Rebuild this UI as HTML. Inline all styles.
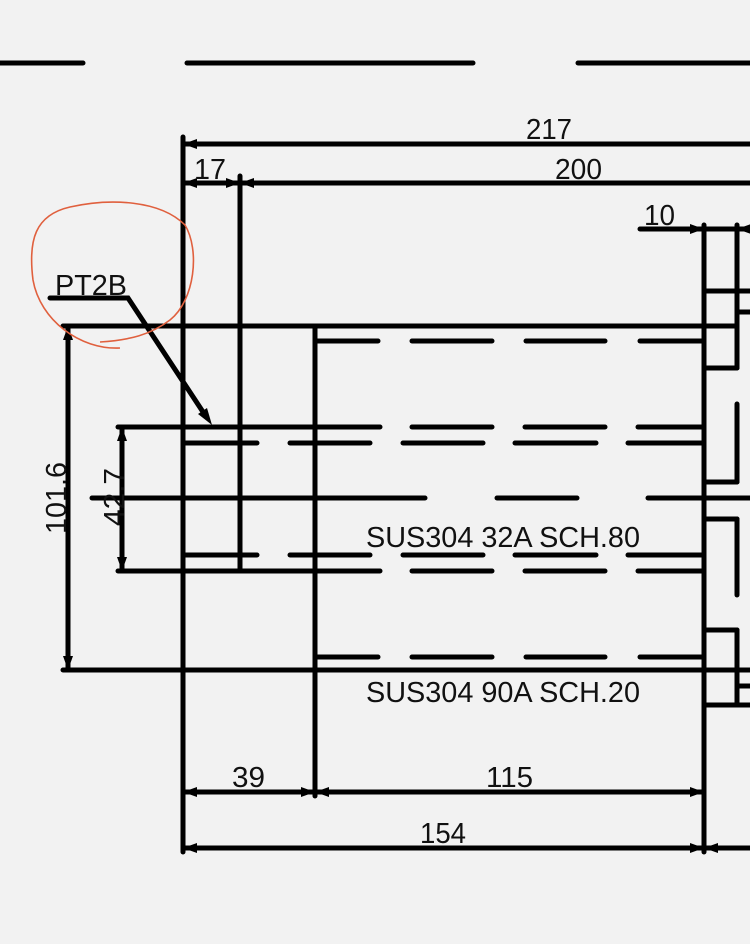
<!DOCTYPE html>
<html><head><meta charset="utf-8"><style>
html,body{margin:0;padding:0;background:#f2f2f2;}
svg{display:block}
text{font-family:"Liberation Sans",sans-serif;fill:#111}
</style></head><body>
<svg width="750" height="944" viewBox="0 0 750 944" xmlns="http://www.w3.org/2000/svg">
<rect width="750" height="944" fill="#f2f2f2"/>
<g stroke="#000" stroke-width="5" stroke-linecap="round" fill="none">
<!-- top center line -->
<line x1="0" y1="63" x2="83" y2="63"/>
<line x1="187" y1="63" x2="473" y2="63"/>
<line x1="578" y1="63" x2="752" y2="63"/>
<!-- dims top -->
<line x1="183" y1="144" x2="752" y2="144"/>
<line x1="183" y1="183" x2="752" y2="183"/>
<line x1="640" y1="229" x2="752" y2="229"/>
<!-- verticals -->
<line x1="183" y1="137" x2="183" y2="852"/>
<line x1="240" y1="176" x2="240" y2="571"/>
<line x1="704" y1="225" x2="704" y2="852"/>
<line x1="737" y1="225" x2="737" y2="368"/>
<line x1="315" y1="326" x2="315" y2="796"/>
<!-- right side structure -->
<line x1="704" y1="291" x2="752" y2="291"/>
<line x1="737" y1="312" x2="752" y2="312"/>
<line x1="704" y1="368" x2="737" y2="368"/>
<line x1="737" y1="404" x2="737" y2="482"/>
<line x1="704" y1="482" x2="737" y2="482"/>
<line x1="704" y1="519" x2="737" y2="519"/>
<line x1="737" y1="519" x2="737" y2="595"/>
<line x1="704" y1="630" x2="737" y2="630"/>
<line x1="737" y1="630" x2="737" y2="705"/>
<line x1="737" y1="686" x2="752" y2="686"/>
<line x1="704" y1="705" x2="752" y2="705"/>
<!-- pipe lines -->
<line x1="63" y1="326" x2="737" y2="326"/>
<line x1="63" y1="670" x2="752" y2="670"/>
<line x1="118" y1="427" x2="380" y2="427"/>
<line x1="118" y1="571" x2="380" y2="571"/>
<!-- dashed 341 / 657 -->
<line x1="315" y1="341" x2="378" y2="341"/><line x1="412" y1="341" x2="492" y2="341"/><line x1="526" y1="341" x2="605" y2="341"/><line x1="640" y1="341" x2="704" y2="341"/>
<line x1="315" y1="657" x2="378" y2="657"/><line x1="412" y1="657" x2="492" y2="657"/><line x1="526" y1="657" x2="605" y2="657"/><line x1="640" y1="657" x2="704" y2="657"/>
<!-- 427 / 571 dashes -->
<line x1="412" y1="427" x2="492" y2="427"/><line x1="525" y1="427" x2="605" y2="427"/><line x1="638" y1="427" x2="704" y2="427"/>
<line x1="412" y1="571" x2="492" y2="571"/><line x1="525" y1="571" x2="605" y2="571"/><line x1="638" y1="571" x2="704" y2="571"/>
<!-- 443 / 555 dashes -->
<line x1="183" y1="443" x2="257" y2="443"/><line x1="290" y1="443" x2="370" y2="443"/><line x1="403" y1="443" x2="483" y2="443"/><line x1="515" y1="443" x2="596" y2="443"/><line x1="628" y1="443" x2="704" y2="443"/>
<line x1="183" y1="555" x2="257" y2="555"/><line x1="290" y1="555" x2="370" y2="555"/><line x1="403" y1="555" x2="483" y2="555"/><line x1="515" y1="555" x2="596" y2="555"/><line x1="628" y1="555" x2="704" y2="555"/>
<!-- center line -->
<line x1="92" y1="498" x2="425" y2="498"/><line x1="497" y1="498" x2="577" y2="498"/><line x1="648" y1="498" x2="752" y2="498"/>
<!-- vertical dims -->
<line x1="68" y1="326" x2="68" y2="670"/>
<line x1="122" y1="427" x2="122" y2="571"/>
<!-- bottom dims -->
<line x1="183" y1="792" x2="704" y2="792"/>
<line x1="183" y1="848" x2="752" y2="848"/>
<!-- leader -->
<polyline points="50,298 128,298 205,415"/>
</g>
<g fill="#000">
<!-- arrowheads -->
<polygon points="183,144 197,139 197,149"/>
<polygon points="183,183 197,178 197,188"/>
<polygon points="240,183 226,178 226,188"/>
<polygon points="240,183 254,178 254,188"/>
<polygon points="704,229 690,224 690,234"/>
<polygon points="737,229 751,224 751,234"/>
<polygon points="68,326 63,340 73,340"/>
<polygon points="68,670 63,656 73,656"/>
<polygon points="122,427 117,441 127,441"/>
<polygon points="122,571 117,557 127,557"/>
<polygon points="183,792 197,787 197,797"/>
<polygon points="315,792 301,787 301,797"/>
<polygon points="315,792 329,787 329,797"/>
<polygon points="704,792 690,787 690,797"/>
<polygon points="183,848 197,843 197,853"/>
<polygon points="704,848 690,843 690,853"/>
<polygon points="704,848 718,843 718,853"/>
<polygon points="212,425 198,414 207,408"/>
</g>
<!-- red circle -->
<path d="M120,348 C80,350 40,320 33,280 C28,240 35,215 70,207 C110,198 160,200 185,225 C200,250 195,300 170,320 C150,335 130,340 100,342" stroke="#e0603e" stroke-width="1.6" fill="none"/>
<!-- texts -->
<g font-size="29">
<text x="526" y="139" textLength="46" lengthAdjust="spacingAndGlyphs">217</text>
<text x="194" y="179" textLength="32" lengthAdjust="spacingAndGlyphs">17</text>
<text x="555" y="179" textLength="47" lengthAdjust="spacingAndGlyphs">200</text>
<text x="644" y="225" textLength="31" lengthAdjust="spacingAndGlyphs">10</text>
<text x="55" y="295" textLength="72" lengthAdjust="spacingAndGlyphs">PT2B</text>
<text x="366" y="547" textLength="274" lengthAdjust="spacingAndGlyphs">SUS304 32A SCH.80</text>
<text x="366" y="702" textLength="274" lengthAdjust="spacingAndGlyphs">SUS304 90A SCH.20</text>
<text x="232" y="787" textLength="33" lengthAdjust="spacingAndGlyphs">39</text>
<text x="486" y="787" textLength="47" lengthAdjust="spacingAndGlyphs">115</text>
<text x="420" y="843" textLength="46" lengthAdjust="spacingAndGlyphs">154</text>
<text transform="translate(66,534) rotate(-90)" textLength="72" lengthAdjust="spacingAndGlyphs">101.6</text>
<text transform="translate(124,526) rotate(-90)" textLength="58" lengthAdjust="spacingAndGlyphs">42.7</text>
</g>
</svg>
</body></html>
